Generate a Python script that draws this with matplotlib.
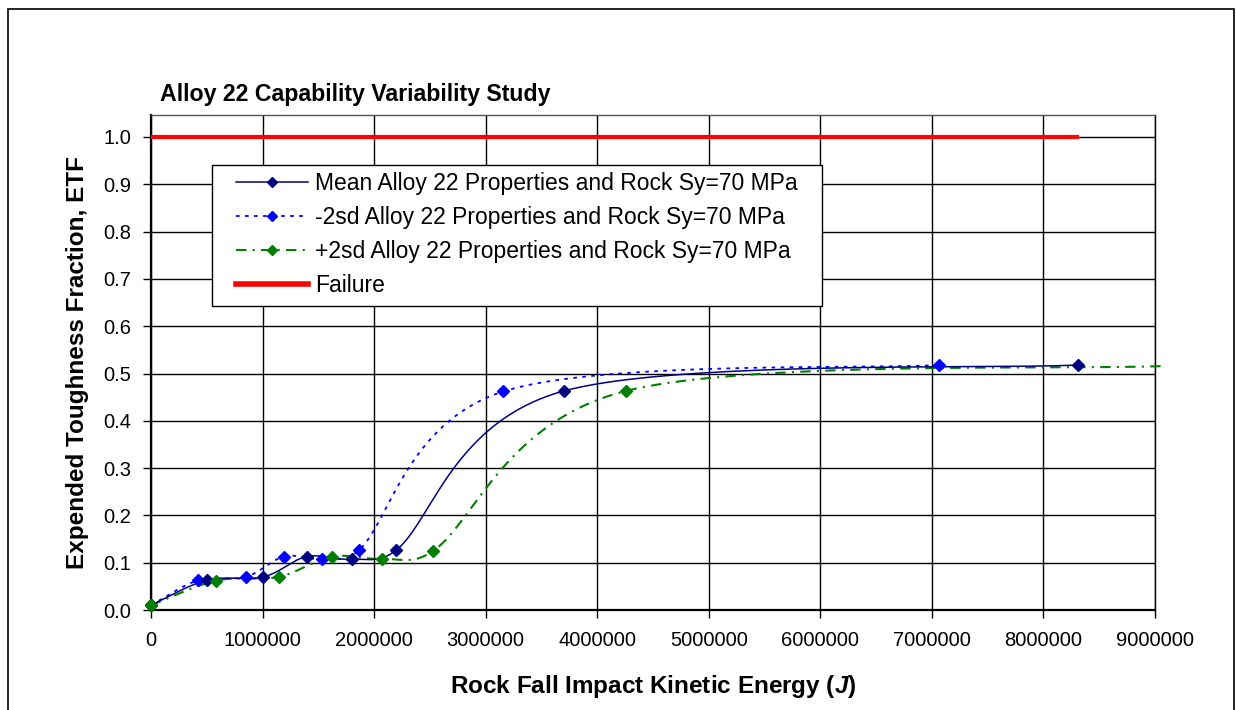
import numpy as np
import matplotlib
matplotlib.use("Agg")
import matplotlib.pyplot as plt
from matplotlib.lines import Line2D
from matplotlib.patches import Rectangle
from matplotlib.legend_handler import HandlerLine2D

plt.rcParams['font.family'] = ['Liberation Sans', 'DejaVu Sans']
plt.rcParams['mathtext.fontset'] = 'custom'
plt.rcParams['mathtext.rm'] = 'Liberation Sans:bold'
plt.rcParams['mathtext.it'] = 'Liberation Sans:bold:italic'

# ---------------- data ----------------
title = "Alloy 22 Capability Variability Study"
x_label = "Rock Fall Impact Kinetic Energy ($J$)"
y_label = "Expended Toughness Fraction, ETF"

mean_x = [0, 500000, 1008000, 1398000, 1804000, 2200000, 3700000, 8310000]
mean_y = [0.010, 0.063, 0.070, 0.113, 0.107, 0.127, 0.463, 0.518]

minus_x = [0, 425000, 850000, 1194000, 1535000, 1867000, 3157000, 7067000]
minus_y = [0.010, 0.063, 0.070, 0.113, 0.108, 0.127, 0.462, 0.518]

plus_x = [0, 583000, 1143000, 1622000, 2071000, 2530000, 4255000, 9100000]
plus_y = [0.010, 0.062, 0.070, 0.113, 0.108, 0.125, 0.463, 0.516]

fail_x = [0, 8320000]
fail_y = [1.0, 1.0]

labels = ["Mean Alloy 22 Properties and Rock Sy=70 MPa",
          "-2sd Alloy 22 Properties and Rock Sy=70 MPa",
          "+2sd Alloy 22 Properties and Rock Sy=70 MPa",
          "Failure"]

x_ticks = [0, 1000000, 2000000, 3000000, 4000000, 5000000, 6000000, 7000000, 8000000, 9000000]
y_ticks = [0.0, 0.1, 0.2, 0.3, 0.4, 0.5, 0.6, 0.7, 0.8, 0.9, 1.0]

W, H = 1236, 710
AX_L, AX_R, AX_T, AX_B = 151, 1155, 115, 610
XMAX = 9000000
YMAX = (AX_B - AX_T) / 473.0
SX = (AX_R - AX_L) / XMAX
SY = (AX_B - AX_T) / YMAX


def excel_smooth(x, y, n=40):
    """Excel-style smoothed line (Bezier with limited tangents, computed in pixel space)."""
    pts = np.column_stack([np.asarray(x, float) * SX, np.asarray(y, float) * SY])
    P = np.vstack([pts[0], pts, pts[-1]])
    out = [pts[0]]
    t = np.linspace(0, 1, n)[1:, None]
    for i in range(len(pts) - 1):
        p0, p1, p2, p3 = P[i], P[i + 1], P[i + 2], P[i + 3]
        d02 = np.hypot(*(p2 - p0))
        d12 = np.hypot(*(p2 - p1))
        d13 = np.hypot(*(p3 - p1))
        f1 = 1 / 6.0
        f2 = 1 / 6.0
        if d02 / 6.0 >= d12 / 2.0 and d02 > 0:
            f1 = d12 / (2.0 * d02)
        if d13 / 6.0 >= d12 / 2.0 and d13 > 0:
            f2 = d12 / (2.0 * d13)
        c1 = p1 + (p2 - p0) * f1
        c2 = p2 - (p3 - p1) * f2
        seg = ((1 - t) ** 3) * p1 + 3 * ((1 - t) ** 2) * t * c1 + 3 * (1 - t) * t ** 2 * c2 + t ** 3 * p2
        out.extend(seg)
    out = np.array(out)
    return out[:, 0] / SX, out[:, 1] / SY


fig = plt.figure(figsize=(W / 100, H / 100), dpi=100)
ax = fig.add_axes([AX_L / W, 1 - AX_B / H, (AX_R - AX_L) / W, (AX_B - AX_T) / H])

navy = '#000080'
blue = '#0000FF'
green = '#008000'
red = '#FF0000'

mean_style = dict(color=navy, lw=1.1)
minus_style = dict(color=blue, lw=1.3, dashes=(2.0, 3.0))
plus_style = dict(color=green, lw=1.5, dashes=(5, 3, 1, 3))

sx, sy = excel_smooth(mean_x, mean_y)
ax.plot(sx, sy, zorder=4, **mean_style)
sx, sy = excel_smooth(minus_x, minus_y)
ax.plot(sx, sy, zorder=3, **minus_style)
sx, sy = excel_smooth(plus_x, plus_y)
ax.plot(sx, sy, zorder=3, clip_on=False, **plus_style)

for xs, ys, c, z in [(minus_x, minus_y, blue, 5), (mean_x, mean_y, navy, 6), (plus_x, plus_y, green, 7)]:
    xs = np.asarray(xs); ys = np.asarray(ys)
    m = xs <= XMAX
    ax.plot(xs[m], ys[m], ls='none', marker='D', ms=5.8, color=c, mec=c, zorder=z, clip_on=False)

ax.plot(fail_x, fail_y, color=red, lw=3.0, solid_capstyle='butt', zorder=6)

ax.set_xlim(0, XMAX)
ax.set_ylim(0, YMAX)
ax.set_xticks(x_ticks)
ax.set_xticklabels([str(v) for v in x_ticks])
ax.set_yticks(y_ticks)
ax.set_yticklabels([f"{v:.1f}" for v in y_ticks])
ax.tick_params(axis='both', direction='out', length=6, width=1.0, color='black', labelsize=14.5)
ax.tick_params(axis='x', pad=9)
ax.tick_params(axis='y', pad=8)
ax.grid(True, color='black', lw=1.0, zorder=0)
ax.set_axisbelow(True)
ax.spines['top'].set_color('#555555')
ax.spines['top'].set_linewidth(1.0)
ax.spines['right'].set_color('black')
ax.spines['right'].set_linewidth(1.0)
for s in ['left', 'bottom']:
    ax.spines[s].set_color('black')
    ax.spines[s].set_linewidth(1.6)

ax.set_xlabel(x_label, fontsize=17.5, fontweight='bold', va='center')
ax.xaxis.set_label_coords(0.5, -(687 - AX_B) / (AX_B - AX_T))
ax.set_ylabel(y_label, fontsize=17.5, fontweight='bold', va='center')
ax.yaxis.set_label_coords(-(AX_L - 78) / (AX_R - AX_L), 0.5)

fig.text(160 / W, 1 - 95 / H, title, fontsize=16.7, fontweight='bold', ha='left', va='center')

# legend box (Excel-style, fixed frame)
LG_L, LG_R, LG_T, LG_B = 212, 822, 165, 306
ax.add_patch(Rectangle((LG_L / W, 1 - LG_B / H), (LG_R - LG_L) / W, (LG_B - LG_T) / H,
                       transform=fig.transFigure, facecolor='white', edgecolor='black',
                       lw=1.0, zorder=9, clip_on=False))

handles = [
    Line2D([], [], marker='D', ms=5.5, mec=navy, **mean_style),
    Line2D([], [], marker='D', ms=5.5, mec=blue, **minus_style),
    Line2D([], [], marker='D', ms=5.5, mec=green, **plus_style),
    Line2D([], [], color=red, lw=4.0),
]
hm = {h: HandlerLine2D(xpad=0.75) for h in handles}
leg = ax.legend(handles, labels, loc='upper left', handler_map=hm,
                bbox_to_anchor=((LG_L - AX_L) / (AX_R - AX_L), (AX_B - LG_T) / (AX_B - AX_T)),
                fontsize=16.5, frameon=False,
                handlelength=3.9, handletextpad=0.28,
                labelspacing=0.48, borderpad=0.3, borderaxespad=0)
leg.set_zorder(10)

fig.patches.append(Rectangle((8 / W, -0.05), (1234 - 8) / W, 1.05 - 9 / H,
                             transform=fig.transFigure, fill=False, edgecolor='black', lw=1.2))

fig.savefig("out.png", dpi=100)
